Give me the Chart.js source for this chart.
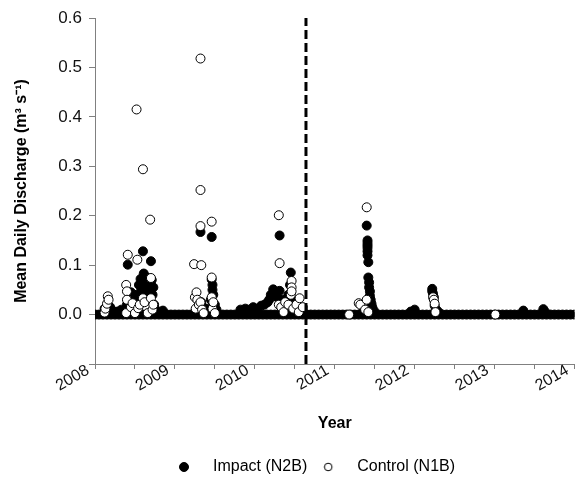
<!DOCTYPE html>
<html>
<head>
<meta charset="utf-8">
<script src="https://cdn.jsdelivr.net/npm/chart.js@4.4.1/dist/chart.umd.min.js"></script>
<style>
    body { margin: 0; background: #fff; }
    #wrap { width: 580px; height: 477px; }
</style>
</head>
<body>
<div id="wrap"><canvas id="discharge_chart"></canvas></div>
<script>
// days with zero flow at the impact site (N2B) - continuous band at 0
const impactZeroYears = [
    2008.00, 2008.05, 2008.10, 2008.15, 2008.20, 2008.25, 2008.30, 2008.35, 2008.40, 2008.45,
    2008.50, 2008.55, 2008.60, 2008.65, 2008.70, 2008.75, 2008.80, 2008.85, 2008.90, 2008.95,
    2009.00, 2009.05, 2009.10, 2009.15, 2009.20, 2009.25, 2009.30, 2009.35, 2009.40, 2009.45,
    2009.50, 2009.55, 2009.60, 2009.65, 2009.70, 2009.75, 2009.80, 2009.85, 2009.90, 2009.95,
    2010.00, 2010.05, 2010.10, 2010.15, 2010.20, 2010.25, 2010.30, 2010.35, 2010.40, 2010.45,
    2010.50, 2010.55, 2010.60, 2010.65, 2010.70, 2010.75, 2010.80, 2010.85, 2010.90, 2010.95,
    2011.00, 2011.05, 2011.10, 2011.15, 2011.20, 2011.25, 2011.30, 2011.35, 2011.40, 2011.45,
    2011.50, 2011.55, 2011.60, 2011.65, 2011.70, 2011.75, 2011.80, 2011.85, 2011.90, 2011.95,
    2012.00, 2012.05, 2012.10, 2012.15, 2012.20, 2012.25, 2012.30, 2012.35, 2012.40, 2012.45,
    2012.50, 2012.55, 2012.60, 2012.65, 2012.70, 2012.75, 2012.80, 2012.85, 2012.90, 2012.95,
    2013.00, 2013.05, 2013.10, 2013.15, 2013.20, 2013.25, 2013.30, 2013.35, 2013.40, 2013.45,
    2013.50, 2013.55, 2013.60, 2013.65, 2013.70, 2013.75, 2013.80, 2013.85, 2013.90, 2013.95,
    2014.00,
];

// impact site (N2B) flow events: [year, m3/s]
const impactEvents = [
    [2008.12, 0.012], [2008.16, 0.02], [2008.19, 0.015], [2008.22, 0.008], [2008.28, 0.006],
    [2008.33, 0.01], [2008.40, 0.02], [2008.41, 0.101], [2008.43, 0.03], [2008.45, 0.045],
    [2008.47, 0.015], [2008.50, 0.025], [2008.52, 0.04], [2008.55, 0.06], [2008.56, 0.035],
    [2008.57, 0.072], [2008.58, 0.05], [2008.59, 0.028], [2008.60, 0.128], [2008.61, 0.083],
    [2008.62, 0.065], [2008.63, 0.055], [2008.64, 0.045], [2008.65, 0.075], [2008.66, 0.03],
    [2008.67, 0.064], [2008.68, 0.05], [2008.69, 0.04], [2008.70, 0.108], [2008.71, 0.07],
    [2008.72, 0.04], [2008.73, 0.055], [2008.74, 0.02], [2008.76, 0.01], [2008.85, 0.008],
    [2009.28, 0.01], [2009.30, 0.02], [2009.32, 0.167], [2009.33, 0.025], [2009.35, 0.015],
    [2009.40, 0.012], [2009.45, 0.03], [2009.46, 0.157], [2009.46, 0.071], [2009.47, 0.06],
    [2009.47, 0.05], [2009.48, 0.04], [2009.50, 0.02], [2009.52, 0.01],
    [2009.82, 0.01], [2009.88, 0.012], [2009.93, 0.01], [2009.98, 0.015], [2010.03, 0.012],
    [2010.08, 0.018], [2010.12, 0.02], [2010.16, 0.025], [2010.18, 0.03], [2010.20, 0.04],
    [2010.23, 0.051], [2010.25, 0.045], [2010.28, 0.035], [2010.31, 0.16], [2010.31, 0.048],
    [2010.35, 0.03], [2010.38, 0.025], [2010.42, 0.04], [2010.44, 0.06], [2010.45, 0.085],
    [2010.47, 0.03], [2010.50, 0.02], [2010.55, 0.012], [2010.60, 0.008],
    [2011.35, 0.005], [2011.40, 0.18], [2011.41, 0.15], [2011.41, 0.145], [2011.41, 0.14],
    [2011.41, 0.135], [2011.41, 0.128], [2011.41, 0.12], [2011.42, 0.106], [2011.42, 0.075],
    [2011.43, 0.065], [2011.43, 0.055], [2011.44, 0.047], [2011.44, 0.038], [2011.45, 0.03],
    [2011.46, 0.022], [2011.47, 0.015], [2011.49, 0.008],
    [2011.95, 0.006], [2012.00, 0.01], [2012.22, 0.052], [2012.22, 0.047], [2012.23, 0.042],
    [2012.24, 0.035], [2012.25, 0.018], [2012.27, 0.01], [2012.30, 0.005],
    [2013.36, 0.008], [2013.61, 0.011], [2013.63, 0.006],
];

// control site (N1B): [year, m3/s]
const controlEvents = [
    [2008.12, 0.004], [2008.13, 0.012], [2008.15, 0.022], [2008.16, 0.037], [2008.17, 0.03],
    [2008.39, 0.06], [2008.39, 0.003], [2008.40, 0.047], [2008.40, 0.03], [2008.41, 0.121],
    [2008.45, 0.015], [2008.47, 0.023], [2008.50, 0.003], [2008.52, 0.415], [2008.53, 0.111],
    [2008.54, 0.013], [2008.56, 0.02], [2008.60, 0.294], [2008.60, 0.033], [2008.62, 0.025],
    [2008.66, 0.003], [2008.69, 0.192], [2008.70, 0.074], [2008.70, 0.033], [2008.72, 0.01],
    [2008.73, 0.02],
    [2009.24, 0.102], [2009.25, 0.035], [2009.26, 0.012], [2009.27, 0.045], [2009.28, 0.03],
    [2009.30, 0.02], [2009.32, 0.518], [2009.32, 0.252], [2009.32, 0.179], [2009.32, 0.025],
    [2009.33, 0.1], [2009.34, 0.01], [2009.36, 0.003], [2009.46, 0.188], [2009.46, 0.075],
    [2009.46, 0.035], [2009.47, 0.012], [2009.48, 0.025], [2009.50, 0.003],
    [2010.30, 0.201], [2010.30, 0.02], [2010.31, 0.104], [2010.33, 0.015], [2010.36, 0.005],
    [2010.38, 0.025], [2010.42, 0.02], [2010.45, 0.04], [2010.46, 0.068], [2010.46, 0.055],
    [2010.46, 0.047], [2010.48, 0.012], [2010.52, 0.02], [2010.55, 0.005], [2010.56, 0.033],
    [2010.60, 0.015],
    [2011.18, 0.0], [2011.30, 0.023], [2011.32, 0.02], [2011.38, 0.01], [2011.40, 0.217],
    [2011.40, 0.03], [2011.42, 0.005],
    [2012.23, 0.035], [2012.24, 0.03], [2012.25, 0.022], [2012.26, 0.005],
    [2013.01, 0.0],
];

// start of treatment (dashed line)
const treatmentYear = 2010.64;

const toPoints = (pairs) => pairs.map((p) => ({ x: p[0], y: p[1] }));

const impactData = impactZeroYears
    .map((yr) => ({ x: yr, y: 0 }))
    .concat(toPoints(impactEvents));

const axisColor = "#808080";
const fontFamily = "'Liberation Sans', Arial, sans-serif";

// legend marker: circle on the left of a wider box, so the text sits further away
function legendMarker(fill, r) {
    const c = document.createElement("canvas");
    c.width = 26;
    c.height = 12;
    const ctx = c.getContext("2d");
    ctx.beginPath();
    ctx.arc(5, 6, r, 0, Math.PI * 2);
    ctx.fillStyle = fill;
    ctx.fill();
    ctx.lineWidth = 1;
    ctx.strokeStyle = "#000";
    ctx.stroke();
    return c;
}
const legendMarkers = [legendMarker("#000", 4.5), legendMarker("#fff", 3.8)];

// move the bottom legend to the right, like the original figure
const legendShift = {
    id: "legendShift",
    afterLayout(chart) {
        if (chart.legend) {
            chart.legend.left = 47;
        }
    },
};

const discharge_chart = document.getElementById("discharge_chart");
new Chart(discharge_chart, {
    type: "scatter",
    data: {
        datasets: [
            {
                label: "Impact (N2B)",
                data: impactData,
                backgroundColor: "#000",
                borderColor: "#000",
                borderWidth: 1,
                pointRadius: 4.5,
                order: 2,
            },
            {
                label: "Control (N1B)",
                data: toPoints(controlEvents),
                backgroundColor: "#fff",
                borderColor: "#000",
                borderWidth: 1,
                pointRadius: 4.5,
                order: 1,
            },
            {
                type: "line",
                label: "treatment",
                data: [
                    { x: treatmentYear, y: -0.1 },
                    { x: treatmentYear, y: 0.6 },
                ],
                borderColor: "#000",
                borderWidth: 3,
                borderDash: [9, 4],
                pointRadius: 0,
                fill: false,
                order: 0,
            },
        ],
    },
    plugins: [legendShift],
    options: {
        responsive: true,
        maintainAspectRatio: false,
        animation: false,
        layout: {
            padding: { top: 18, right: -7, left: 0, bottom: -8 },
        },
        plugins: {
            legend: {
                position: "bottom",
                labels: {
                    usePointStyle: true,
                    pointStyleWidth: 26,
                    boxHeight: 12,
                    padding: 16,
                    color: "#000",
                    font: { family: fontFamily, size: 16 },
                    filter: (item) => item.datasetIndex < 2,
                    sort: (a, b) => a.datasetIndex - b.datasetIndex,
                    generateLabels: (chart) =>
                        Chart.defaults.plugins.legend.labels
                            .generateLabels(chart)
                            .map((item) => {
                                item.pointStyle = legendMarkers[item.datasetIndex] || item.pointStyle;
                                return item;
                            }),
                },
            },
            tooltip: { enabled: false },
        },
        scales: {
            x: {
                type: "linear",
                min: 2008,
                max: 2014,
                afterFit: (scale) => {
                    scale.height = 79;
                    scale.paddingRight = 0;
                },
                grid: {
                    drawOnChartArea: false,
                    color: axisColor,
                    tickLength: 5,
                },
                border: { color: axisColor, width: 1 },
                ticks: {
                    stepSize: 0.5,
                    autoSkip: false,
                    minRotation: 30,
                    maxRotation: 30,
                    padding: -8,
                    labelOffset: -7,
                    color: "#111",
                    font: { family: fontFamily, size: 16 },
                    callback: (v) => (Number.isInteger(v) ? String(v) : ""),
                },
                title: {
                    display: true,
                    text: "Year",
                    color: "#000",
                    font: { family: fontFamily, size: 16, weight: "bold" },
                    padding: { top: 10, bottom: 10 },
                },
            },
            y: {
                min: -0.1,
                max: 0.6,
                afterFit: (scale) => {
                    scale.width = 95;
                },
                grid: {
                    drawOnChartArea: false,
                    color: axisColor,
                    tickLength: 6,
                },
                border: { color: axisColor, width: 1 },
                ticks: {
                    stepSize: 0.1,
                    padding: 7,
                    color: "#111",
                    font: { family: fontFamily, size: 17 },
                    callback: (v) => (v < -0.05 ? "" : (Math.round(v * 10) / 10).toFixed(1)),
                },
                title: {
                    display: true,
                    text: "Mean Daily Discharge (m\u00B3 s\u207B\u00B9)",
                    color: "#000",
                    font: { family: fontFamily, size: 16, weight: "bold" },
                    padding: { top: 12, bottom: 0 },
                },
            },
        },
    },
});
</script>
</body>
</html>
